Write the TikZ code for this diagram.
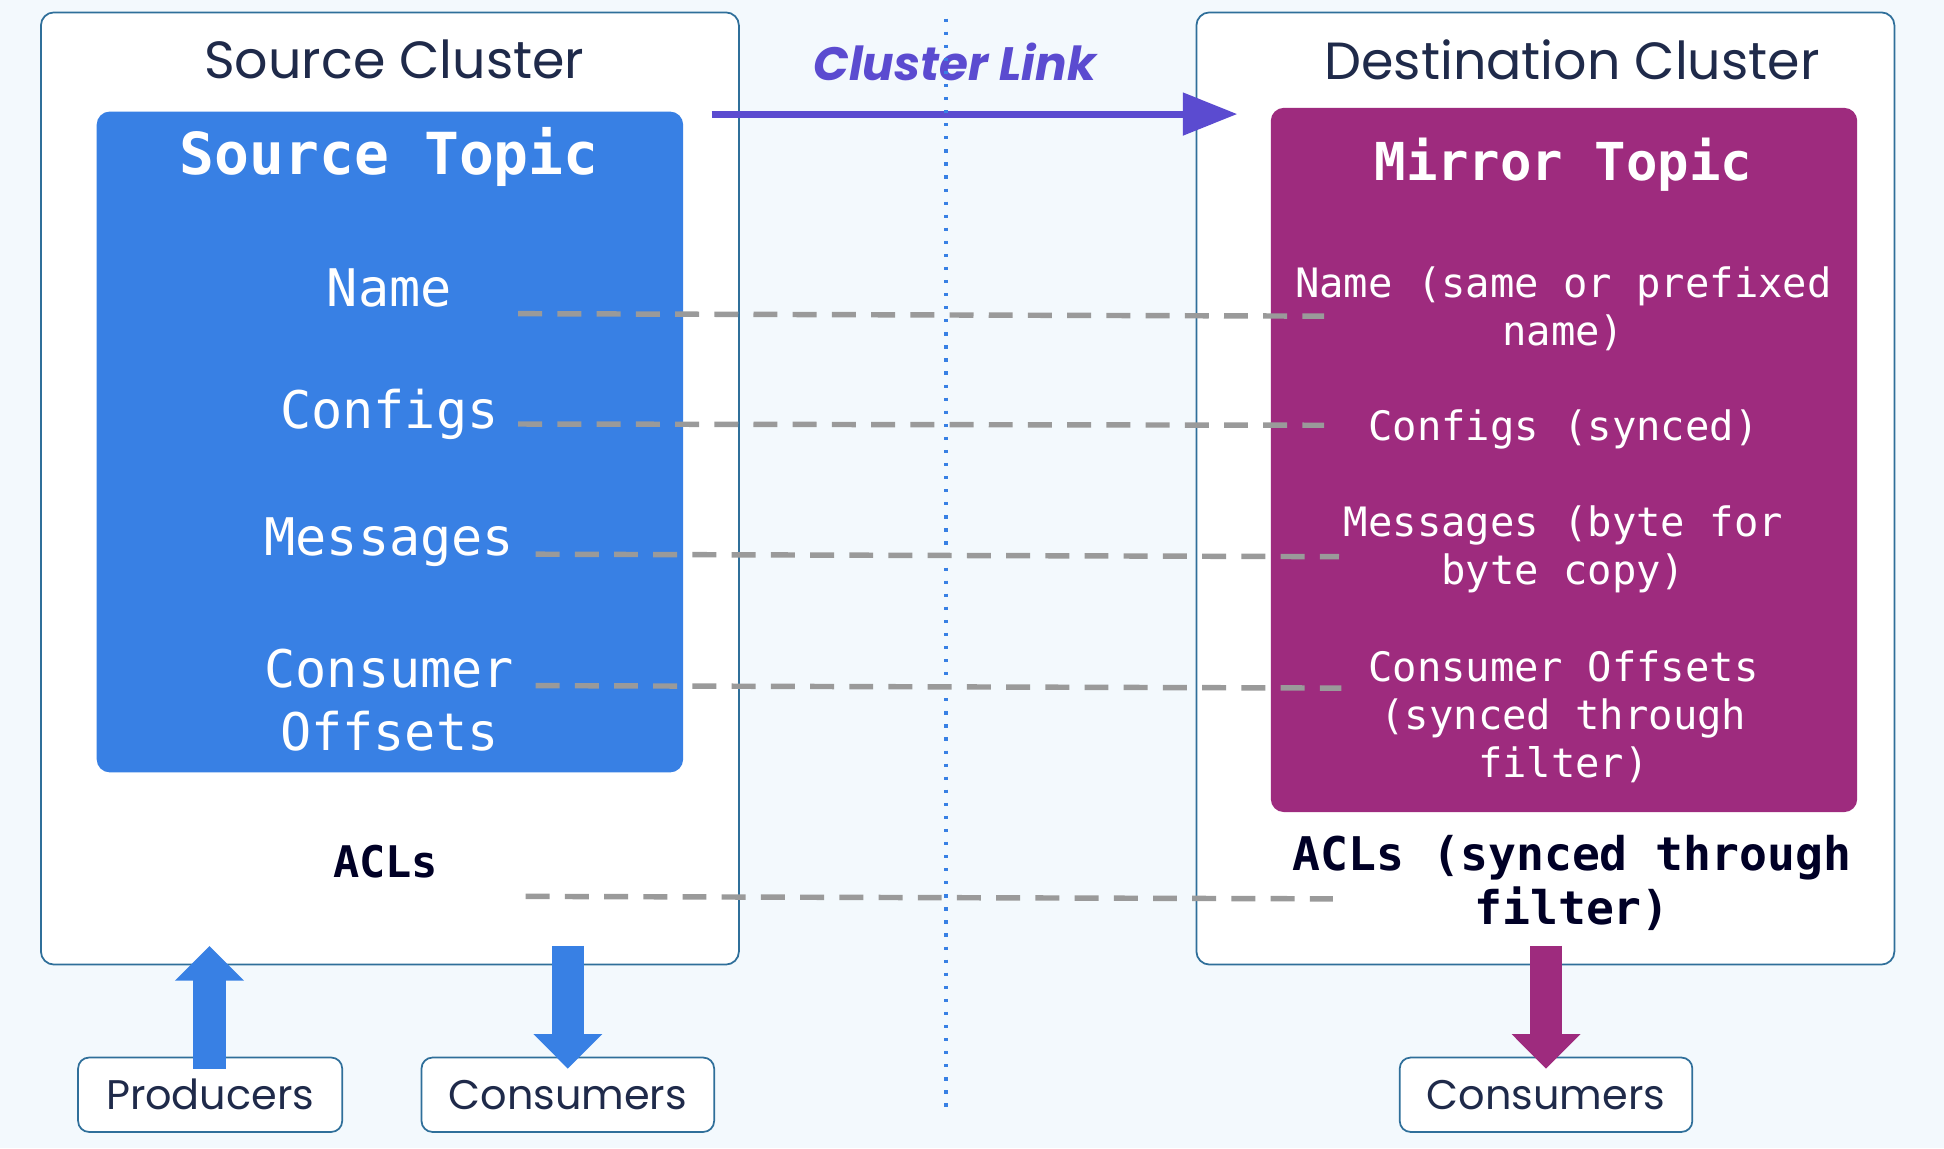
\documentclass[tikz,border=0pt]{standalone}
\usepackage{fontspec}
\setmainfont{Poppins}
\setmonofont{DejaVu Sans Mono}
\usetikzlibrary{arrows.meta}
\definecolor{bg}{HTML}{F3F9FD}
\definecolor{frame}{HTML}{2F6F9A}
\definecolor{stopic}{HTML}{3880E4}
\definecolor{mtopic}{HTML}{9E2B7E}
\definecolor{link}{HTML}{5B4BD0}
\definecolor{dark}{HTML}{1F2A4A}
\definecolor{dgray}{HTML}{9A9A9A}
\tikzset{
 cluster/.style={draw=frame,line width=0.8pt,fill=white,rounded corners=6pt},
 ext/.style={draw=frame,line width=0.8pt,fill=white,rounded corners=5pt,inner sep=0pt,font=\fontsize{19}{21}\selectfont,text=dark},
 ctitle/.style={font=\fontsize{24}{28}\selectfont,text=dark},
 lab/.style={font=\ttfamily\fontsize{23.8}{29}\selectfont,text=white,align=center},
 mlab/.style={font=\ttfamily\fontsize{18.6}{22}\selectfont,text=white,align=center},
 dline/.style={draw=dgray,line width=2.5pt,dash pattern=on 11pt off 7pt},
 blk/.style={line width=0.52cm,-{Triangle[width=1.08cm,length=0.56cm]}}
}
\begin{document}
\begin{tikzpicture}[x=0.02cm,y=-0.02cm]
\fill[bg] (0,0) rectangle (1568,926);
\useasboundingbox (0,0) rectangle (1568,926);
\draw[cluster] (33,10) rectangle (596,778);
\draw[cluster] (965,10) rectangle (1528,778);
\fill[stopic,rounded corners=6pt] (78,90) rectangle (551,623);
\fill[mtopic,rounded corners=6pt] (1025,87) rectangle (1498,655);
\node[ctitle] (st) at (318,48) {Source Cluster};
\node[ctitle] (dt) at (1268,48) {Destination Cluster};
\node[font=\bfseries\itshape\fontsize{21.5}{24}\selectfont,text=link] (cl) at (770,50) {Cluster Link};
\coordinate (la) at (574,92); \coordinate (lb) at (998,92);
\draw[link,line width=3.2pt,-{Triangle[width=19pt,length=25pt]}] (la) -- (lb);
\coordinate (v1) at (763,15); \coordinate (v2) at (763,893);
\draw[stopic,line width=1.5pt,dash pattern=on 1.5pt off 4.5pt] (v1) -- (v2);
\node[lab,font=\ttfamily\bfseries\fontsize{26.6}{30}\selectfont] (stt) at (314,127) {Source Topic};
\node[lab,font=\ttfamily\bfseries\fontsize{24}{28}\selectfont] (mtt) at (1261,133) {Mirror Topic};
\node[lab] (n1) at (314,232) {Name};
\node[lab] (n2) at (314,334) {Configs};
\node[lab] (n3) at (314,437) {Messages};
\node[lab] (n4) at (314,565) {Consumer\\Offsets};
\node[mlab] (m1) at (1261,249) {Name (same or prefixed\\name)};
\node[mlab] (m2) at (1261,346) {Configs (synced)};
\node[mlab] (m3) at (1261,443) {Messages (byte for\\byte copy)};
\node[mlab] (m4) at (1261,578) {Consumer Offsets\\(synced through\\filter)};
\node[font=\ttfamily\bfseries\fontsize{20}{24}\selectfont,text=black!85!blue] (a1) at (311,695) {ACLs};
\node[font=\ttfamily\bfseries\fontsize{21.3}{25}\selectfont,text=black!85!blue,align=center] (a2) at (1268,712) {ACLs (synced through\\filter)};
\coordinate (s1) at (418,253); \coordinate (e1) at (1068,255);
\coordinate (s2) at (418,342); \coordinate (e2) at (1068,343);
\coordinate (s3) at (432,447); \coordinate (e3) at (1080,449);
\coordinate (s4) at (432,553); \coordinate (e4) at (1082,555);
\coordinate (s5) at (424,723); \coordinate (e5) at (1075,725);
\foreach \i in {1,...,5}{\draw[dline] (s\i) -- (e\i);}
\node[ext,minimum width=213*0.02cm,minimum height=60*0.02cm] (pr) at (169.5,883) {Producers};
\node[ext,minimum width=236*0.02cm,minimum height=60*0.02cm] (c1) at (458,883) {Consumers};
\node[ext,minimum width=236*0.02cm,minimum height=60*0.02cm] (c2) at (1247,883) {Consumers};
\coordinate (u0) at (169,862); \coordinate (u1) at (169,763);
\coordinate (d1) at (458,763); \coordinate (d1e) at (458,862);
\coordinate (d2) at (1247,763); \coordinate (d2e) at (1247,862);
\draw[blk,stopic] (u0) -- (u1);
\draw[blk,stopic] (d1) -- (d1e);
\draw[blk,mtopic] (d2) -- (d2e);
\end{tikzpicture}
\end{document}
